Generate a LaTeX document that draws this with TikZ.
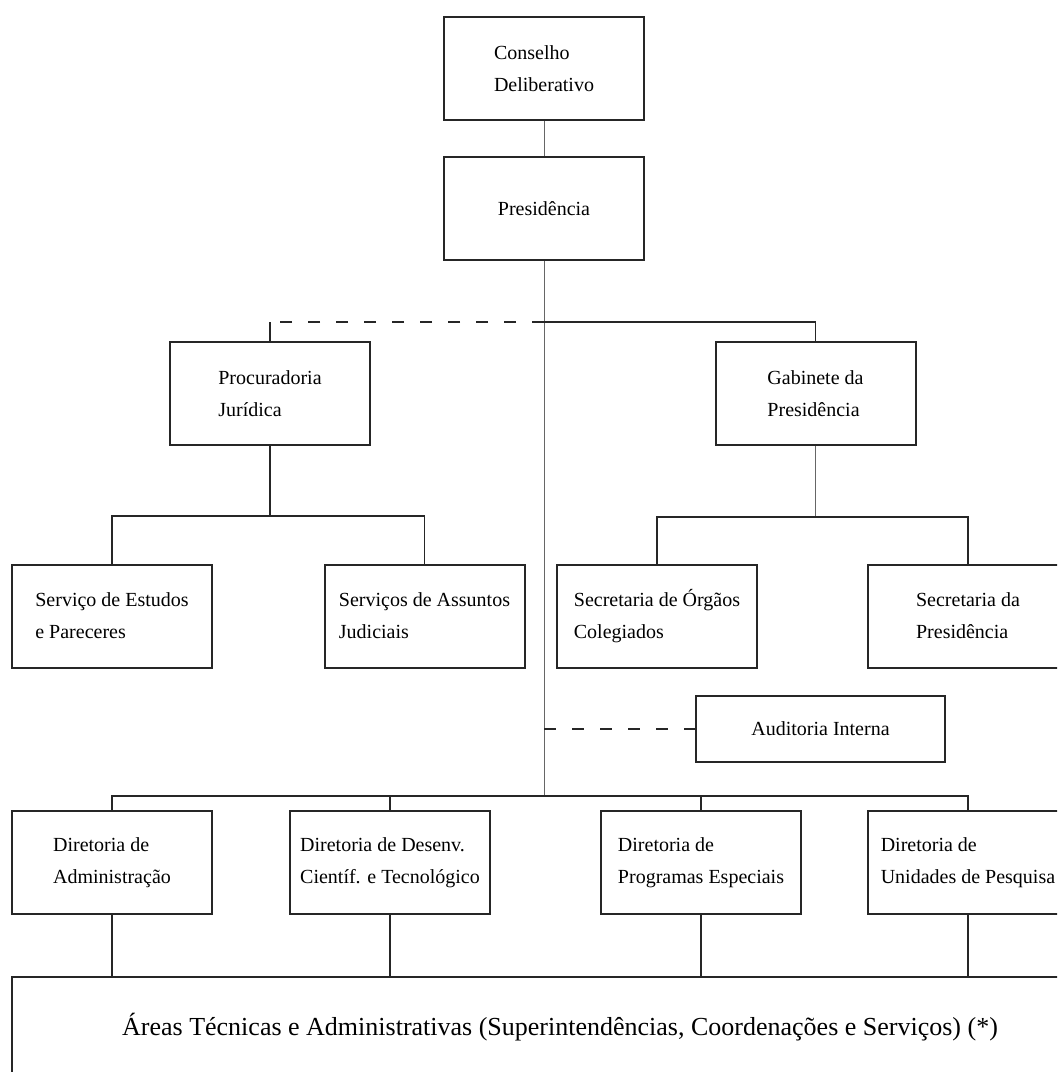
\documentclass[tikz,border=0pt]{standalone}
\usepackage{fontspec}
\setmainfont{Liberation Serif}
\usepackage{tikz}

\newcommand{\unitfont}{\fontsize{10}{16}\selectfont}
\newcommand{\areafont}{\fontsize{13}{16}\selectfont}

\tikzstyle{unit} = [rectangle, minimum width=100pt, minimum height=51.5pt, inner sep=0pt, align=left, draw=black!85, line width=1pt, font=\unitfont]
\tikzstyle{wideunit} = [unit, minimum width=124.5pt, minimum height=33pt]
\tikzstyle{areabox} = [unit, minimum width=548pt, minimum height=50pt, font=\areafont]
\tikzstyle{link} = [line width=0.8pt, draw=black!85]
\tikzstyle{thinlink} = [line width=0.5pt, draw=black!60]
\tikzstyle{stafflink} = [line width=0.8pt, draw=black!85, dash pattern=on 6pt off 8pt]

\begin{document}
\begin{tikzpicture}[x=0.5pt, y=-0.5pt]

\useasboundingbox (0,0) rectangle (1057,1072);
\fill[white] (0,0) rectangle (1057,1072);
\clip (0,0) rectangle (1057,1072);

\node (cons) [unit] at (544,68.5) {Conselho\\Deliberativo};
\node (pres) [unit] at (544,208.5) {Presidência};
\node (proc) [unit] at (270,393.5) {Procuradoria\\Jurídica};
\node (gab) [unit] at (815.5,393.5) {Gabinete da\\Presidência};
\node (estudos) [unit] at (112,616) {Serviço de Estudos\\e Pareceres};
\node (assuntos) [unit] at (424.5,616) {Serviços de Assuntos\\Judiciais};
\node (orgaos) [unit] at (657,616) {Secretaria de Órgãos\\Colegiados};
\node (secpres) [unit] at (968,616) {Secretaria da\\Presidência};
\node (audit) [wideunit] at (820.5,729) {Auditoria Interna};
\node (dadm) [unit] at (112,862.5) {Diretoria de\\Administração};
\node (ddes) [unit] at (390,862.5) {Diretoria de Desenv.\\Científ. e Tecnológico};
\node (dprog) [unit] at (701,862.5) {Diretoria de\\Programas Especiais};
\node (dpesq) [unit] at (968,862.5) {Diretoria de\\Unidades de Pesquisa};
\node (areas) [areabox] at (560,1027) {Áreas Técnicas e Administrativas (Superintendências, Coordenações e Serviços) (*)};

% junctions
\coordinate (jtop) at (544,322);
\coordinate (jproc) at (270,322);
\coordinate (jlow) at (270,516);
\coordinate (jgab) at (815.5,517);
\coordinate (jdir) at (544,796);

\draw [thinlink] (cons) -- (pres);
\draw [thinlink] (pres) -- (jdir);
\draw [stafflink] (jtop) -- (jproc);
\draw [link] (jproc) -- (proc);
\draw [link] (jtop) -| (gab);
\draw [link] (proc) -- (jlow);
\draw [link] (estudos.north) |- (jlow) -| (assuntos.north);
\draw [thinlink] (gab) -- (jgab);
\draw [link] (orgaos.north) |- (jgab) -| (secpres.north);
\draw [stafflink] (audit.west -| jtop) -- (audit);
\draw [link] (dadm.north) |- (jdir) -| (dpesq.north);
\draw [link] (ddes.north) -- (ddes.north |- jdir);
\draw [link] (dprog.north) -- (dprog.north |- jdir);
\foreach \d in {dadm,ddes,dprog,dpesq}
  \draw [link] (\d.south) -- (\d.south |- areas.north);

\end{tikzpicture}
\end{document}
